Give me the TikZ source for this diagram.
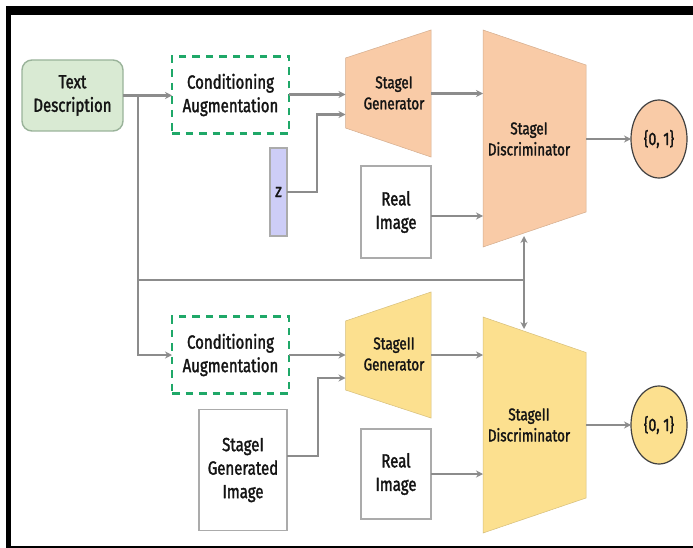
\documentclass[tikz,border=0pt]{standalone}
\usepackage{fontspec}
\setmainfont[FakeStretch=0.79,FakeBold=1.7]{Fira Sans}
\usetikzlibrary{shapes.geometric,arrows.meta}
\definecolor{linegray}{HTML}{8C8C8C}
\definecolor{boxgray}{HTML}{ABABAB}
\definecolor{textgreen}{HTML}{D9EAD3}
\definecolor{dashgreen}{HTML}{1FA868}
\definecolor{peach}{HTML}{F9CBA7}
\definecolor{sand}{HTML}{FCE08F}
\definecolor{lav}{HTML}{CDCDF7}
\newcommand{\lowered}[1]{\raisebox{-1pt}{\begin{tabular}{@{}c@{}}#1\end{tabular}}}
\tikzset{
  x=1pt,y=-1pt,
  every node/.style={font=\fontsize{19}{23.5}\selectfont,text=black!92,align=center,inner sep=0pt,outer sep=0pt},
  pxbox/.style args={#1x#2}{minimum width=#1pt,minimum height=#2pt},
  whitebox/.style={draw=boxgray,line width=1.6pt,fill=white},
  cabox/.style={draw=dashgreen,line width=2.6pt,dash pattern=on 7.5pt off 6pt,fill=white},
  trap/.style={draw=#1!85!black,line width=.5pt,fill=#1},
  traplabel/.style={font=\fontsize{17}{21}\selectfont},
  conn/.style={draw=linegray,line width=2.4pt,-{Stealth[length=7pt,width=7pt]}},
  plain/.style={draw=linegray,line width=2pt},
  branch/.style={draw=linegray,line width=2pt,-{Stealth[length=7pt,width=7pt]}}
}
\begin{document}
\begin{tikzpicture}
\useasboundingbox (0,0) rectangle (693,548);
\fill[white] (0,0) rectangle (693,548);
% frame
\fill[black] (6,6) rectangle (693,15);
\fill[black] (6,6) rectangle (10.5,548);
\fill[black] (6,545.5) rectangle (693,548);
% trapezoids
\draw[trap=peach] (345.5,58) -- (431,30) -- (431,157) -- (345.5,128) -- cycle;
\draw[trap=peach] (483,30) -- (586,65) -- (586,212) -- (483,247) -- cycle;
\draw[trap=sand] (345.5,321) -- (431,292) -- (431,418) -- (345.5,390) -- cycle;
\draw[trap=sand] (483,317) -- (586,352.5) -- (586,498) -- (483,533) -- cycle;
% nodes
\node[pxbox=101x71,rounded corners=10pt,draw=boxgray!90!green,line width=1.4pt,fill=textgreen] (td) at (72.5,95.5) {Text\\Description};
\node[pxbox=117x77,cabox] (ca1) at (230.5,95) {Conditioning\\Augmentation};
\node[pxbox=117x77,cabox] (ca2) at (230.5,355) {Conditioning\\Augmentation};
\node[pxbox=17x88,draw=boxgray,line width=1.4pt,fill=lav] (z) at (278.5,192) {z};
\node[pxbox=70x92,whitebox] (r1) at (396,212) {Real\\Image};
\node[pxbox=70x90,whitebox] (r2) at (396,474) {Real\\Image};
\node[pxbox=88x121,whitebox] (gi) at (243,470) {StageI\\Generated\\Image};
\node[traplabel] (g1) at (394,93) {StageI\\Generator};
\node[traplabel] (g2) at (394,354) {StageII\\Generator};
\node[traplabel] (d1) at (529,139) {StageI\\Discriminator};
\node[traplabel] (d2) at (529,425) {StageII\\Discriminator};
\node[ellipse,minimum width=56pt,minimum height=78pt,draw=black!75,line width=1.2pt,fill=peach,font=\fontsize{18}{22}\selectfont] (o1) at (659,139) {\{0, 1\}};
\node[ellipse,minimum width=56pt,minimum height=78pt,draw=black!75,line width=1.2pt,fill=sand,font=\fontsize{18}{22}\selectfont] (o2) at (659,425) {\{0, 1\}};
% named connector ends on the trapezoid edges
\coordinate (g1a) at (345.5,94.5);
\coordinate (g1b) at (345.5,114.5);
\coordinate (g1o) at (431,93.5);
\coordinate (d1a) at (483,93.5);
\coordinate (d1b) at (483,216);
\coordinate (d1c) at (524,236);
\coordinate (d1o) at (586,139);
\coordinate (g2a) at (345.5,355);
\coordinate (g2b) at (345.5,378);
\coordinate (g2o) at (431,355);
\coordinate (d2a) at (483,355);
\coordinate (d2b) at (483,474);
\coordinate (d2c) at (524,329);
\coordinate (d2o) at (586,425);
\coordinate (tdo) at (123,95.5);
\coordinate (j1) at (138,95.5);
\coordinate (j2) at (138,280);
\coordinate (j3) at (524,280);
\coordinate (ca1i) at (172,95.5);
\coordinate (ca2i) at (172,355);
% connectors
\draw[conn] (tdo) -- (ca1i);
\draw[branch] (j1) -- (j2) |- (ca2i);
\draw[plain] (j2) -- (j3);
\draw[branch] (j3) -- (d1c);
\draw[branch] (j3) -- (d2c);
\draw[conn] (ca1.east |- g1a) -- (g1a);
\draw[conn] (z.east) -- (317,192) -- (317,114.5) -- (g1b);
\draw[conn] (g1o) -- (d1a);
\draw[conn] (r1.east |- d1b) -- (d1b);
\draw[conn] (d1o) -- (o1.west);
\draw[conn] (ca2.east |- g2a) -- (g2a);
\draw[conn] (gi.east |- 0,456) -- (318,456) -- (318,378) -- (g2b);
\draw[conn] (g2o) -- (d2a);
\draw[conn] (r2.east |- d2b) -- (d2b);
\draw[conn] (d2o) -- (o2.west);
\end{tikzpicture}
\end{document}
